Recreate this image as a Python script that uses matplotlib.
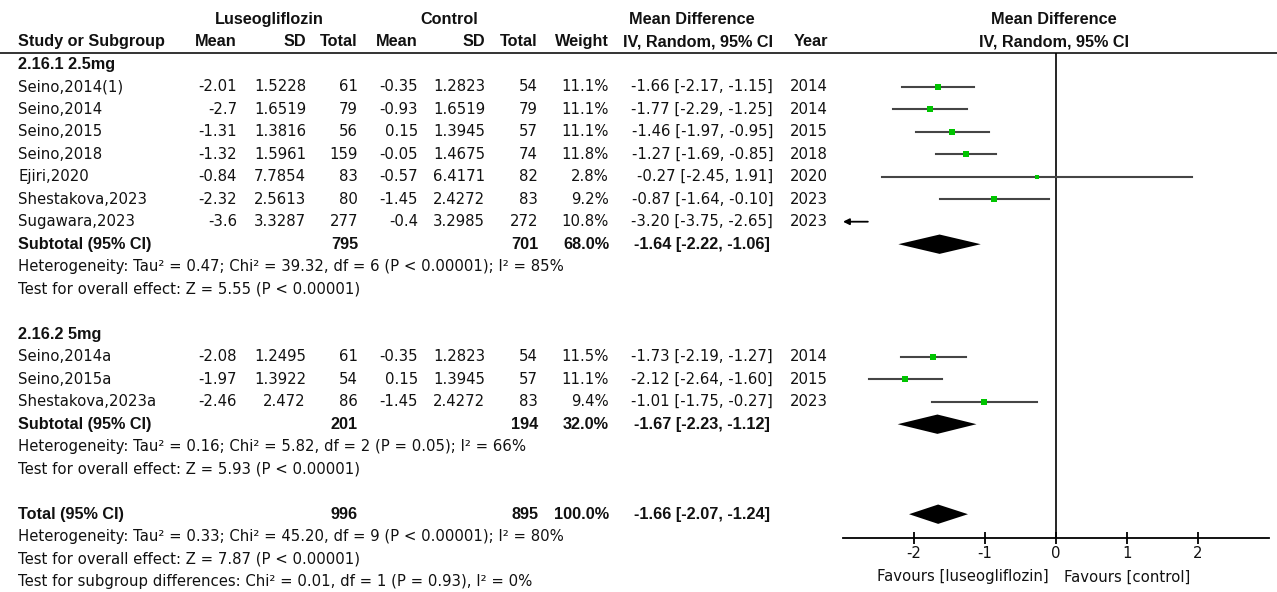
import matplotlib
matplotlib.use("Agg")
import matplotlib.pyplot as plt

# ---- data ----
study = ["Seino,2014(1)", "Seino,2014", "Seino,2015", "Seino,2018", "Ejiri,2020",
         "Shestakova,2023", "Sugawara,2023",
         "Seino,2014a", "Seino,2015a", "Shestakova,2023a"]
group = [0, 0, 0, 0, 0, 0, 0, 1, 1, 1]
luseo_mean = [-2.01, -2.7, -1.31, -1.32, -0.84, -2.32, -3.6, -2.08, -1.97, -2.46]
luseo_sd = [1.5228, 1.6519, 1.3816, 1.5961, 7.7854, 2.5613, 3.3287, 1.2495, 1.3922, 2.472]
luseo_n = [61, 79, 56, 159, 83, 80, 277, 61, 54, 86]
ctrl_mean = [-0.35, -0.93, 0.15, -0.05, -0.57, -1.45, -0.4, -0.35, 0.15, -1.45]
ctrl_sd = [1.2823, 1.6519, 1.3945, 1.4675, 6.4171, 2.4272, 3.2985, 1.2823, 1.3945, 2.4272]
ctrl_n = [54, 79, 57, 74, 82, 83, 272, 54, 57, 83]
weight = [11.1, 11.1, 11.1, 11.8, 2.8, 9.2, 10.8, 11.5, 11.1, 9.4]
md = [-1.66, -1.77, -1.46, -1.27, -0.27, -0.87, -3.20, -1.73, -2.12, -1.01]
ci_lo = [-2.17, -2.29, -1.97, -1.69, -2.45, -1.64, -3.75, -2.19, -2.64, -1.75]
ci_hi = [-1.15, -1.25, -0.95, -0.85, 1.91, -0.10, -2.65, -1.27, -1.60, -0.27]
year = [2014, 2014, 2015, 2018, 2020, 2023, 2023, 2014, 2015, 2023]

sub_names = ["2.16.1 2.5mg", "2.16.2 5mg"]
sub_n_luseo = [795, 201]
sub_n_ctrl = [701, 194]
sub_weight = [68.0, 32.0]
sub_md = [-1.64, -1.67]
sub_lo = [-2.22, -2.23]
sub_hi = [-1.06, -1.12]
sub_het = ["Heterogeneity: Tau\u00b2 = 0.47; Chi\u00b2 = 39.32, df = 6 (P < 0.00001); I\u00b2 = 85%",
           "Heterogeneity: Tau\u00b2 = 0.16; Chi\u00b2 = 5.82, df = 2 (P = 0.05); I\u00b2 = 66%"]
sub_z = ["Test for overall effect: Z = 5.55 (P < 0.00001)",
         "Test for overall effect: Z = 5.93 (P < 0.00001)"]

total_n_luseo = 996
total_n_ctrl = 895
total_weight = 100.0
total_md, total_lo, total_hi = -1.66, -2.07, -1.24
total_notes = ["Heterogeneity: Tau\u00b2 = 0.33; Chi\u00b2 = 45.20, df = 9 (P < 0.00001); I\u00b2 = 80%",
               "Test for overall effect: Z = 7.87 (P < 0.00001)",
               "Test for subgroup differences: Chi\u00b2 = 0.01, df = 1 (P = 0.93), I\u00b2 = 0%"]
xticks = [-2, -1, 0, 1, 2]

# ---- layout ----
W, H = 1277, 592
ROW0, DY = 86.7, 22.5          # pixel y of first study row, row spacing


def prow(p):
    return (p - ROW0) / DY


plt.rcParams['font.family'] = 'DejaVu Sans'
FS = 10.7
BOLD = dict(family='Liberation Sans', weight='bold', fontsize=11.7)
TXTC = '#111111'

fig = plt.figure(figsize=(W / 100, H / 100), dpi=100)
ax = fig.add_axes([0, 0, 1, 1])
ax.set_xlim(0, W)
ax.set_ylim(prow(H), prow(0))
ax.axis('off')

# column right edges (px)
X_NAME = 18
X_LM, X_LSD, X_LN = 237, 306, 358
X_CM, X_CSD, X_CN = 418, 485, 538
X_W, X_CI, X_YR = 609, 773, 828


def txt(x, r, s, ha='right', bold=False):
    if bold:
        ax.text(x, r, s, ha=ha, va='center', color=TXTC, **BOLD)
    else:
        ax.text(x, r, s, ha=ha, va='center', fontsize=FS, color=TXTC)


# headers
ax.text(269, -3, "Luseogliflozin", ha='center', va='center', color=TXTC, **BOLD)
ax.text(449, -3, "Control", ha='center', va='center', color=TXTC, **BOLD)
ax.text(692, -3, "Mean Difference", ha='center', va='center', color=TXTC, **BOLD)
ax.text(1054, -3, "Mean Difference", ha='center', va='center', color=TXTC, **BOLD)
txt(X_NAME, -2, "Study or Subgroup", ha='left', bold=True)
for x, s in [(X_LM, "Mean"), (X_LSD, "SD"), (X_LN, "Total"), (X_CM, "Mean"),
             (X_CSD, "SD"), (X_CN, "Total"), (X_W, "Weight"),
             (X_CI, "IV, Random, 95% CI"), (X_YR, "Year")]:
    txt(x, -2, s, bold=True)
ax.text(1054, -2, "IV, Random, 95% CI", ha='center', va='center', color=TXTC, **BOLD)
ax.plot([0, W], [prow(52.7), prow(52.7)], color='#333333', lw=1.4)

# forest panel
XL, XR = 843, 1269
AX_TOP, AX_BOT = 52.7, 538
fax = fig.add_axes([XL / W, (H - AX_BOT) / H, (XR - XL) / W, (AX_BOT - AX_TOP) / H])
fax.patch.set_alpha(0)
fax.set_xlim(-3, 3)
fax.set_ylim(prow(AX_BOT), prow(AX_TOP))
for sp in ['top', 'left', 'right']:
    fax.spines[sp].set_visible(False)
fax.spines['bottom'].set_linewidth(1.3)
fax.set_yticks([])
fax.set_xticks(xticks)
fax.set_xticklabels([str(t) for t in xticks], fontsize=FS, color=TXTC)
fax.tick_params(axis='x', direction='inout', length=9, width=1.3, pad=1)
fax.axvline(0, color='black', lw=1.2)

GREEN = '#00c400'
LINEC = '#454545'


def diamond(r, c, lo, hi, h=0.43):
    fax.fill([lo, c, hi, c], [r, r - h, r, r + h], color='black', lw=0)


row = -1
for g in range(len(sub_names)):
    txt(X_NAME, row, sub_names[g], ha='left', bold=True)
    row += 1
    for i in range(len(study)):
        if group[i] != g:
            continue
        txt(X_NAME, row, study[i], ha='left')
        txt(X_LM, row, str(luseo_mean[i]))
        txt(X_LSD, row, str(luseo_sd[i]))
        txt(X_LN, row, str(luseo_n[i]))
        txt(X_CM, row, str(ctrl_mean[i]))
        txt(X_CSD, row, str(ctrl_sd[i]))
        txt(X_CN, row, str(ctrl_n[i]))
        txt(X_W, row, "%.1f%%" % weight[i])
        txt(X_CI, row, "%.2f [%.2f, %.2f]" % (md[i], ci_lo[i], ci_hi[i]))
        txt(X_YR, row, str(year[i]))
        if md[i] < -3:
            fax.annotate("", xy=(-3, row), xytext=(ci_hi[i], row),
                         arrowprops=dict(arrowstyle='-|>', color='black', lw=1.3,
                                         mutation_scale=9, shrinkA=0, shrinkB=0),
                         annotation_clip=False)
        else:
            fax.plot([ci_lo[i], ci_hi[i]], [row, row], color=LINEC, lw=1.5)
            fax.plot(md[i], row, marker='s', color=GREEN, lw=0,
                     markersize=1.38 * weight[i] ** 0.5, markeredgewidth=0)
        row += 1
    txt(X_NAME, row, "Subtotal (95% CI)", ha='left', bold=True)
    txt(X_LN, row, str(sub_n_luseo[g]), bold=True)
    txt(X_CN, row, str(sub_n_ctrl[g]), bold=True)
    txt(X_W, row, "%.1f%%" % sub_weight[g], bold=True)
    txt(X_CI - 3, row, "%.2f [%.2f, %.2f]" % (sub_md[g], sub_lo[g], sub_hi[g]), bold=True)
    diamond(row, sub_md[g], sub_lo[g], sub_hi[g])
    row += 1
    txt(X_NAME, row, sub_het[g], ha='left')
    row += 1
    txt(X_NAME, row, sub_z[g], ha='left')
    row += 2

txt(X_NAME, row, "Total (95% CI)", ha='left', bold=True)
txt(X_LN, row, str(total_n_luseo), bold=True)
txt(X_CN, row, str(total_n_ctrl), bold=True)
txt(X_W, row, "%.1f%%" % total_weight, bold=True)
txt(X_CI - 3, row, "%.2f [%.2f, %.2f]" % (total_md, total_lo, total_hi), bold=True)
diamond(row, total_md, total_lo, total_hi)
for note in total_notes:
    row += 1
    txt(X_NAME, row, note, ha='left')

# favours labels
fr = prow(577)
fax.text(-0.1, fr, "Favours [luseogliflozin]", ha='right', va='center', fontsize=FS,
         color=TXTC, clip_on=False)
fax.text(0.11, fr, "Favours [control]", ha='left', va='center', fontsize=FS,
         color=TXTC, clip_on=False)

fig.savefig("out.png", dpi=100)
